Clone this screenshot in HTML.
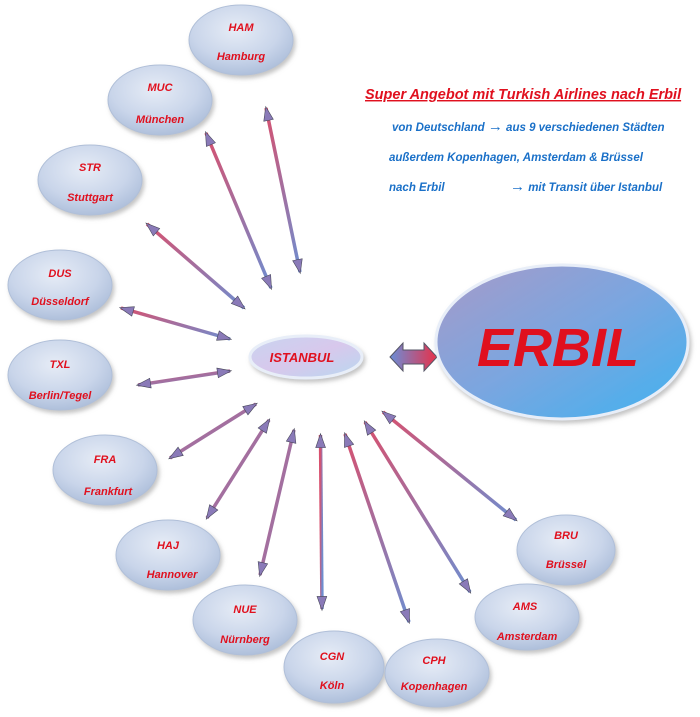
<!DOCTYPE html>
<html><head><meta charset="utf-8"><style>
body{margin:0;background:#fff;}
svg{display:block;font-family:"Liberation Sans",sans-serif;}
</style></head><body>
<svg width="700" height="717" viewBox="0 0 700 717" xmlns="http://www.w3.org/2000/svg">
<defs>
<radialGradient id="city" cx="45%" cy="35%" r="70%">
<stop offset="0" stop-color="#e6ecf6"/><stop offset="0.6" stop-color="#c9d5ea"/><stop offset="1" stop-color="#a9bbd8"/>
</radialGradient>
<linearGradient id="erb" x1="0" y1="0" x2="1" y2="1">
<stop offset="0" stop-color="#a79ac8"/><stop offset="0.5" stop-color="#7aa6e0"/><stop offset="1" stop-color="#3fb2f0"/>
</linearGradient>
<linearGradient id="ist" x1="0" y1="0" x2="1" y2="1">
<stop offset="0" stop-color="#c8d4f0"/><stop offset="0.5" stop-color="#d8c8ec"/><stop offset="1" stop-color="#b8d8f0"/>
</linearGradient>
<linearGradient id="arr" x1="0" y1="0" x2="1" y2="1">
<stop offset="0" stop-color="#d8506e"/><stop offset="1" stop-color="#6e8ed0"/>
</linearGradient>
<linearGradient id="big" x1="0" y1="0" x2="1" y2="0">
<stop offset="0" stop-color="#6a8ed8"/><stop offset="1" stop-color="#e83048"/>
</linearGradient>
<marker id="m" viewBox="0 0 10 10" refX="9" refY="5" markerWidth="6" markerHeight="4" orient="auto-start-reverse">
<path d="M0,1.5 L10,5 L0,8.5 Z" fill="#8a7ab8" stroke="#445" stroke-width="0.4"/>
</marker>
<filter id="sh" x="-20%" y="-20%" width="140%" height="150%"><feDropShadow dx="2" dy="3" stdDeviation="2" flood-color="#888" flood-opacity="0.5"/></filter>
</defs>

<g stroke="url(#arr)" stroke-width="3.5" marker-start="url(#m)" marker-end="url(#m)" fill="none">
<line x1="266" y1="108" x2="300" y2="272"/>
<line x1="206" y1="133" x2="271" y2="288"/>
<line x1="147" y1="224" x2="244" y2="308"/>
<line x1="121" y1="308" x2="230" y2="339"/>
<line x1="138" y1="385" x2="230" y2="371"/>
<line x1="170" y1="458" x2="256" y2="404"/>
<line x1="207" y1="518" x2="269" y2="420"/>
<line x1="260" y1="575" x2="294" y2="430"/>
<line x1="322" y1="609" x2="320.5" y2="435"/>
<line x1="345" y1="434" x2="409" y2="622"/>
<line x1="365" y1="422" x2="470" y2="592"/>
<line x1="383" y1="412" x2="516" y2="520"/>
</g>

<g filter="url(#sh)" fill="url(#city)" stroke="#b0bfd8" stroke-width="1">
<ellipse cx="241" cy="40" rx="52" ry="35"/>
<ellipse cx="160" cy="100" rx="52" ry="35"/>
<ellipse cx="90" cy="180" rx="52" ry="35"/>
<ellipse cx="60" cy="285" rx="52" ry="35"/>
<ellipse cx="60" cy="375" rx="52" ry="35"/>
<ellipse cx="105" cy="470" rx="52" ry="35"/>
<ellipse cx="168" cy="555" rx="52" ry="35"/>
<ellipse cx="245" cy="620" rx="52" ry="35"/>
<ellipse cx="334" cy="667" rx="50" ry="36"/>
<ellipse cx="437" cy="673" rx="52" ry="34"/>
<ellipse cx="527" cy="617" rx="52" ry="33"/>
<ellipse cx="566" cy="550" rx="49" ry="35"/>
</g>

<g fill="#e0101e" font-weight="bold" font-style="italic" font-size="11" text-anchor="middle">
<text x="241" y="31">HAM</text><text x="241" y="60">Hamburg</text>
<text x="160" y="91">MUC</text><text x="160" y="123">München</text>
<text x="90" y="171">STR</text><text x="90" y="201">Stuttgart</text>
<text x="60" y="277">DUS</text><text x="60" y="305">Düsseldorf</text>
<text x="60" y="368">TXL</text><text x="60" y="399">Berlin/Tegel</text>
<text x="105" y="463">FRA</text><text x="108" y="495">Frankfurt</text>
<text x="168" y="549">HAJ</text><text x="172" y="578">Hannover</text>
<text x="245" y="613">NUE</text><text x="245" y="643">Nürnberg</text>
<text x="332" y="660">CGN</text><text x="332" y="689">Köln</text>
<text x="434" y="664">CPH</text><text x="434" y="690">Kopenhagen</text>
<text x="525" y="610">AMS</text><text x="527" y="640">Amsterdam</text>
<text x="566" y="539">BRU</text><text x="566" y="568">Brüssel</text>
</g>

<ellipse cx="306" cy="357" rx="56" ry="21" fill="url(#ist)" stroke="#e8eef8" stroke-width="3" filter="url(#sh)"/>
<text x="302" y="362" fill="#e0101e" font-weight="bold" font-style="italic" font-size="13" text-anchor="middle">ISTANBUL</text>

<path d="M390,357 L403,343 L403,350 L424,350 L424,343 L437,357 L424,371 L424,364 L403,364 L403,371 Z" fill="url(#big)" stroke="#556" stroke-width="1"/>

<ellipse cx="562" cy="342" rx="126" ry="77" fill="url(#erb)" stroke="#e8eef8" stroke-width="3" filter="url(#sh)"/>
<text x="558" y="366" fill="#e0101e" font-style="italic" font-weight="bold" font-size="54" text-anchor="middle">ERBIL</text>

<text x="365" y="99" fill="#e0101e" font-weight="bold" font-style="italic" font-size="14.5" text-decoration="underline">Super Angebot mit Turkish Airlines nach Erbil</text>
<g fill="#1a70c8" font-weight="bold" font-style="italic" font-size="11.5">
<text x="392" y="131">von Deutschland <tspan font-size="15">→</tspan> aus 9 verschiedenen Städten</text>
<text x="389" y="161">außerdem  Kopenhagen, Amsterdam &amp; Brüssel</text>
<text x="389" y="191">nach Erbil</text>
<text x="510" y="191"><tspan font-size="15">→</tspan> mit Transit über Istanbul</text>
</g>
</svg>
</body></html>
